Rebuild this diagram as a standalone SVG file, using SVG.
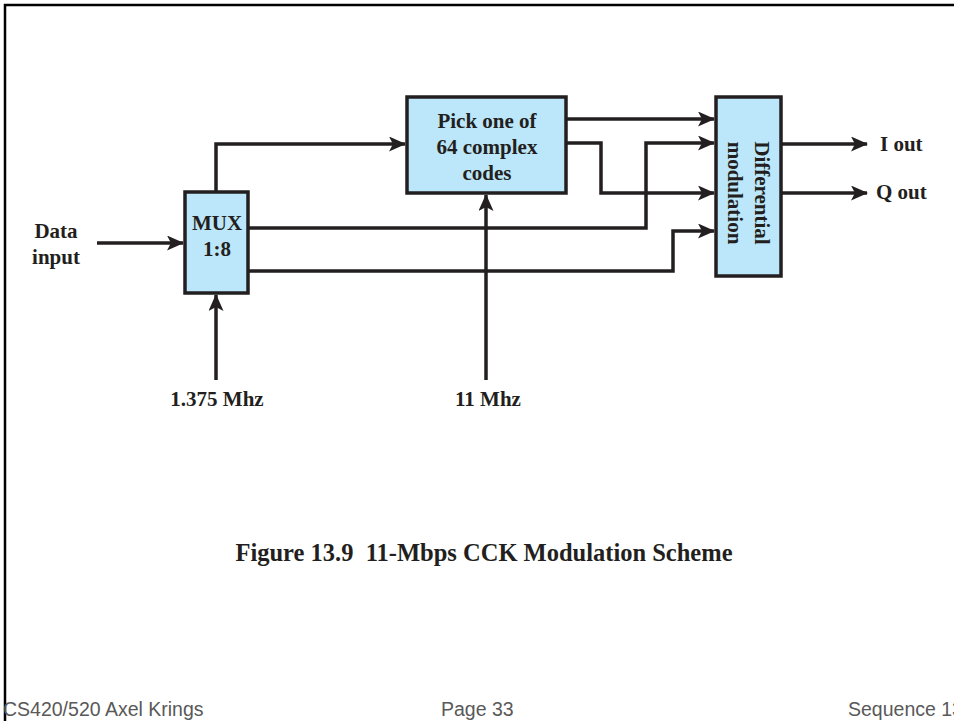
<svg xmlns="http://www.w3.org/2000/svg" width="954" height="721" viewBox="0 0 954 721">
<style>
.box{fill:#bce6f9;stroke:#231f20;stroke-width:3.5}
.ln{fill:none;stroke:#231f20;stroke-width:3.5}
.t{font-family:"Liberation Serif",serif;font-weight:bold;font-size:21px;fill:#231f20;text-anchor:middle}
.s{text-anchor:start}
.cap{font-family:"Liberation Serif",serif;font-weight:bold;font-size:24.5px;fill:#231f20;text-anchor:middle}
.ft{font-family:"Liberation Sans",Arial,sans-serif;font-size:19.5px;fill:#595959}
</style>
<defs>
<marker id="ah" markerWidth="17" markerHeight="15" refX="16" refY="7.5" orient="auto" markerUnits="userSpaceOnUse">
<path d="M0,0 L17,7.5 L0,15 L4,7.5 Z" fill="#231f20"/>
</marker>
</defs>
<rect width="954" height="721" fill="#fff"/>
<path d="M5,721 V5 H954" fill="none" stroke="#000" stroke-width="2.5"/>
<g id="connectors">
<path class="ln" d="M97,243 H183" marker-end="url(#ah)"/>
<path class="ln" d="M216,192 V144 H405" marker-end="url(#ah)"/>
<path class="ln" d="M249,228 H646 V143 H714" marker-end="url(#ah)"/>
<path class="ln" d="M249,271 H673 V231 H714" marker-end="url(#ah)"/>
<path class="ln" d="M566,119 H714" marker-end="url(#ah)"/>
<path class="ln" d="M566,143 H601 V193 H714" marker-end="url(#ah)"/>
<path class="ln" d="M781,144 H867" marker-end="url(#ah)"/>
<path class="ln" d="M781,193 H867" marker-end="url(#ah)"/>
<path class="ln" d="M216,380 V295" marker-end="url(#ah)"/>
<path class="ln" d="M486,380 V195" marker-end="url(#ah)"/>
</g>
<g id="mux">
<rect class="box" x="185" y="192" width="63" height="101"/>
<text class="t" x="217" y="230">MUX</text>
<text class="t" x="217" y="256">1:8</text>
</g>
<g id="pick">
<rect class="box" x="407" y="97" width="159" height="96"/>
<text class="t" x="487" y="128">Pick one of</text>
<text class="t" x="487" y="154">64 complex</text>
<text class="t" x="487" y="180">codes</text>
</g>
<g id="diff">
<rect class="box" x="716" y="97" width="65" height="179"/>
<text class="t" transform="translate(755,193) rotate(90)">Differential</text>
<text class="t" transform="translate(728,193) rotate(90)">modulation</text>
</g>
<g id="labels">
<text class="t" x="56" y="238">Data</text>
<text class="t" x="56" y="264">input</text>
<text class="t s" x="880" y="151">I out</text>
<text class="t s" x="876" y="199">Q out</text>
<text class="t" x="217" y="406">1.375 Mhz</text>
<text class="t" x="488" y="406">11 Mhz</text>
</g>
<text class="cap" x="484" y="561" xml:space="preserve">Figure 13.9  11-Mbps CCK Modulation Scheme</text>
<text class="ft" x="3" y="716">CS420/520 Axel Krings</text>
<text class="ft" x="441" y="716">Page 33</text>
<text class="ft" x="848" y="716">Sequence 13</text>
</svg>
